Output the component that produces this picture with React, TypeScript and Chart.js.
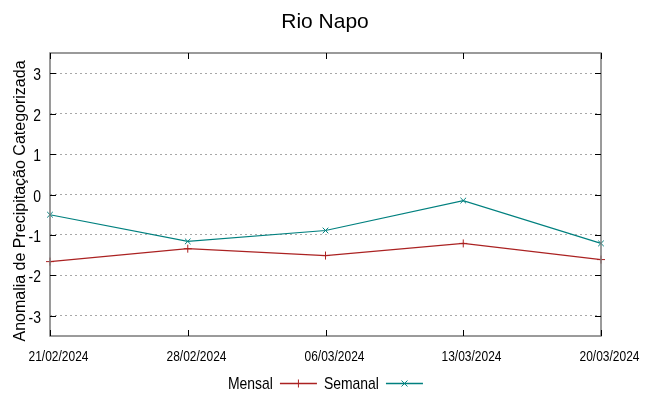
import React, { useEffect, useRef } from "react";
import { Chart, registerables } from "chart.js";

Chart.register(...registerables);

const chartTitle = "Rio Napo";
const yAxisTitle = "Anomalia de Precipitação Categorizada";
const dates = ["21/02/2024", "28/02/2024", "06/03/2024", "13/03/2024", "20/03/2024"];
const mensal = [-1.66, -1.34, -1.51, -1.21, -1.61];
const semanal = [-0.5, -1.16, -0.89, -0.15, -1.21];
const yTicks = [-3, -2, -1, 0, 1, 2, 3];
const seriesNames = ["Mensal", "Semanal"];
const seriesColors = ["#ab2222", "#00807f"];
const yMin = -3.5;
const yMax = 3.5;

const REGULAR = "'Liberation Sans', Arial, sans-serif";
const SQUEEZE = 0.82;

function condensedText(ctx: any, text: string, x: number, y: number, size: number, align: string) {
  ctx.save();
  ctx.font = `${size}px ${REGULAR}`;
  const w = ctx.measureText(text).width * SQUEEZE;
  let left = x;
  if (align === "center") left = x - w / 2;
  else if (align === "right") left = x - w;
  ctx.translate(left, y);
  ctx.scale(SQUEEZE, 1);
  ctx.textAlign = "left";
  ctx.textBaseline = "alphabetic";
  ctx.fillStyle = "#000";
  ctx.fillText(text, 0, 0);
  ctx.restore();
  return w;
}

const decorPlugin = {
  id: "decor",
  afterDraw(chart: any) {
    const ctx = chart.ctx;
    const a = chart.chartArea;
    const xs = chart.scales.x;
    const ys = chart.scales.y;
    ctx.save();
    // frame
    ctx.strokeStyle = "#7a7a7a";
    ctx.lineWidth = 1.5;
    ctx.strokeRect(a.left, a.top, a.right - a.left, a.bottom - a.top);
    // inward tick marks
    ctx.strokeStyle = "#000";
    ctx.lineWidth = 1;
    const tl = 6;
    yTicks.forEach((v) => {
      const y = Math.round(ys.getPixelForValue(v)) + 0.5;
      ctx.beginPath();
      ctx.moveTo(a.left, y);
      ctx.lineTo(a.left + tl, y);
      ctx.moveTo(a.right, y);
      ctx.lineTo(a.right - tl, y);
      ctx.stroke();
      condensedText(ctx, String(v), a.left - 9, y + 6, 17, "right");
    });
    dates.forEach((d, i) => {
      const x = Math.round(xs.getPixelForTick(i)) + 0.5;
      ctx.beginPath();
      ctx.moveTo(x, a.bottom);
      ctx.lineTo(x, a.bottom - tl);
      ctx.moveTo(x, a.top);
      ctx.lineTo(x, a.top + tl);
      ctx.stroke();
      condensedText(ctx, d, x + 8, 361, 14.6, "center");
    });
    // title
    ctx.fillStyle = "#000";
    ctx.font = `21px ${REGULAR}`;
    ctx.textAlign = "center";
    ctx.textBaseline = "alphabetic";
    ctx.fillText(chartTitle, 325, 28);
    // y axis title
    ctx.save();
    ctx.translate(25, 201);
    ctx.rotate(-Math.PI / 2);
    ctx.font = `16px ${REGULAR}`;
    ctx.fillStyle = "#000";
    ctx.textAlign = "center";
    ctx.textBaseline = "alphabetic";
    ctx.fillText(yAxisTitle, 0, 0);
    ctx.restore();
    // legend (text then sample)
    let x = 228;
    const sampleLen = 37;
    const ly = 383.5;
    seriesNames.forEach((name, i) => {
      const w = condensedText(ctx, name, x, 389, 17, "left");
      x += w + 7;
      ctx.strokeStyle = seriesColors[i];
      ctx.lineWidth = 1.3;
      ctx.beginPath();
      ctx.moveTo(x, ly);
      ctx.lineTo(x + sampleLen, ly);
      ctx.stroke();
      const cx = x + sampleLen / 2;
      ctx.lineWidth = 1;
      ctx.beginPath();
      if (i === 0) {
        ctx.moveTo(cx - 4, ly);
        ctx.lineTo(cx + 4, ly);
        ctx.moveTo(cx, ly - 4);
        ctx.lineTo(cx, ly + 4);
      } else {
        ctx.moveTo(cx - 3, ly - 3);
        ctx.lineTo(cx + 3, ly + 3);
        ctx.moveTo(cx - 3, ly + 3);
        ctx.lineTo(cx + 3, ly - 3);
      }
      ctx.stroke();
      x += sampleLen + 7;
    });
    ctx.restore();
  },
};

export default function App() {
  const ref = useRef<HTMLCanvasElement | null>(null);
  useEffect(() => {
    if (!ref.current) return;
    const chart = new Chart(ref.current, {
      type: "line",
      data: {
        labels: dates,
        datasets: [
          {
            label: seriesNames[0],
            data: mensal,
            borderColor: seriesColors[0],
            backgroundColor: seriesColors[0],
            borderWidth: 1.2,
            pointStyle: "cross",
            pointRadius: 4,
            pointBorderWidth: 1,
            tension: 0,
          },
          {
            label: seriesNames[1],
            data: semanal,
            borderColor: seriesColors[1],
            backgroundColor: seriesColors[1],
            borderWidth: 1.2,
            pointStyle: "crossRot",
            pointRadius: 4,
            pointBorderWidth: 1,
            tension: 0,
          },
        ],
      },
      options: {
        responsive: false,
        animation: false,
        layout: { padding: { top: 53, bottom: 60, left: 50, right: 48 } },
        plugins: {
          legend: { display: false },
          title: { display: false },
          tooltip: { enabled: false },
        },
        scales: {
          x: {
            offset: false,
            grid: { display: false, drawTicks: false },
            border: { display: false },
            ticks: { display: false, autoSkip: false },
          },
          y: {
            min: yMin,
            max: yMax,
            afterBuildTicks: (s: any) => {
              s.ticks = yTicks.map((v) => ({ value: v }));
            },
            grid: {
              color: "#a8a8a8",
              lineWidth: 1,
              drawTicks: false,
            },
            border: { display: false, dash: [2, 3] },
            ticks: { display: false },
          },
        },
      },
      plugins: [decorPlugin],
    } as any);
    return () => chart.destroy();
  }, []);
  return (
    <div style={{ position: "fixed", left: 0, top: 0, width: 649, height: 396, background: "#fff" }}>
      <canvas ref={ref} width={649} height={396} style={{ display: "block" }} />
    </div>
  );
}
